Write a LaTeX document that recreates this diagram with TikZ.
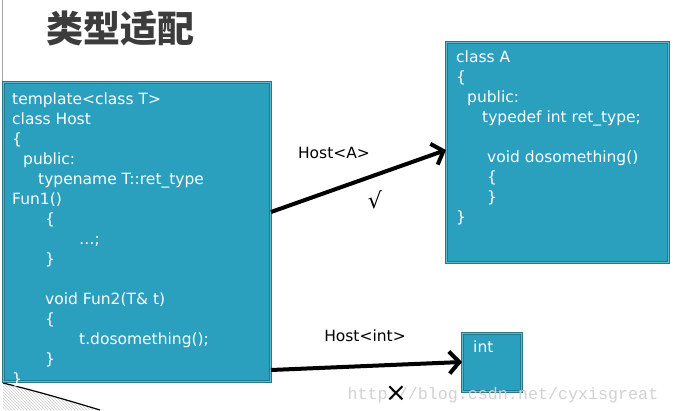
\documentclass[tikz,border=0pt]{standalone}
\usepackage{fontspec}
\setmainfont{DejaVu Sans}
\newfontfamily\cjk{Noto Sans CJK SC}
\newfontfamily\wmfont{Liberation Mono}
\usetikzlibrary{arrows.meta,patterns}
\definecolor{boxfill}{HTML}{2B9FBE}
\definecolor{boxedge}{HTML}{25798B}
\definecolor{titlegray}{HTML}{3C3C3C}
\begin{document}
\begin{tikzpicture}[x=1pt,y=-1pt,
  box/.style={draw=boxedge, line width=1pt, double=boxfill!75!white, double distance=0.6pt, fill=boxfill, anchor=north west, inner sep=0pt},
  code/.style={text=white, font=\fontsize{15.5}{19.93}\selectfont, align=left, anchor=north west, inner sep=0pt},
  arr/.style={line width=4pt, -{Straight Barb[length=10pt,width=22pt]}},
  lbl/.style={font=\fontsize{15.5}{18}\selectfont, text=black, inner sep=0pt}]
\useasboundingbox (0,0) rectangle (686,410);
\fill[white] (0,0) rectangle (686,410);
% slide decorations
\draw[gray!70, line width=0.8pt] (2,0) -- (2,82);
\fill[pattern=north west lines, pattern color=gray!40] (3,383) .. controls (40,392) and (70,401) .. (100,410) -- (3,410) -- cycle;
\draw[line width=1.2pt] (3,383) .. controls (40,392) and (70,401) .. (100,410);
% title
\node[font=\cjk\bfseries\fontsize{37}{37}\selectfont, text=titlegray, inner sep=0pt] (title) at (120,28) {类型适配};
% boxes
\node[box, minimum width=267pt, minimum height=299pt] (host) at (3,82) {};
\node[box, minimum width=222pt, minimum height=220pt] (classA) at (446,42) {};
\node[box, minimum width=59pt, minimum height=58pt] (intbox) at (462,333) {};
% code texts
\node[code] (hosttext) at (12,93) {template<class T>\\
class Host\\
\{\\
\hspace*{11pt}public:\\
\hspace*{26pt}typename T::ret\_type\\
Fun1()\\
\hspace*{33pt}\{\\
\hspace*{67pt}…;\\
\hspace*{33pt}\}\\
\mbox{}\\
\hspace*{33pt}void Fun2(T\& t)\\
\hspace*{33pt}\{\\
\hspace*{67pt}t.dosomething();\\
\hspace*{33pt}\}\\
\}};
\node[code] (atext) at (456,51) {class A\\
\{\\
\hspace*{11pt}public:\\
\hspace*{26pt}typedef int ret\_type;\\
\mbox{}\\
\hspace*{31pt}void dosomething()\\
\hspace*{31pt}\{\\
\hspace*{31pt}\}\\
\}};
\node[code] (inttext) at (473,341) {int};
% watermark
\node[font=\wmfont\fontsize{16.7}{18}\selectfont, text=gray!35, inner sep=0pt] (wm) at (503,395) {http://blog.csdn.net/cyxisgreat};
% arrows
\draw[arr] (host.east |- 0,212) -- (classA.west |- 0,150);
\draw[arr] (host.east |- 0,370) -- (intbox.west |- 0,362);
% labels
\node[lbl] (lblA) at (334,153) {Host<A>};
\node[lbl] (lblint) at (365,336) {Host<int>};
\node[font=\fontsize{22}{22}\selectfont, inner sep=0pt] (check) at (375,200) {√};
\node[font=\fontsize{26}{26}\selectfont, inner sep=0pt] (cross) at (396,394) {×};
\end{tikzpicture}
\end{document}
